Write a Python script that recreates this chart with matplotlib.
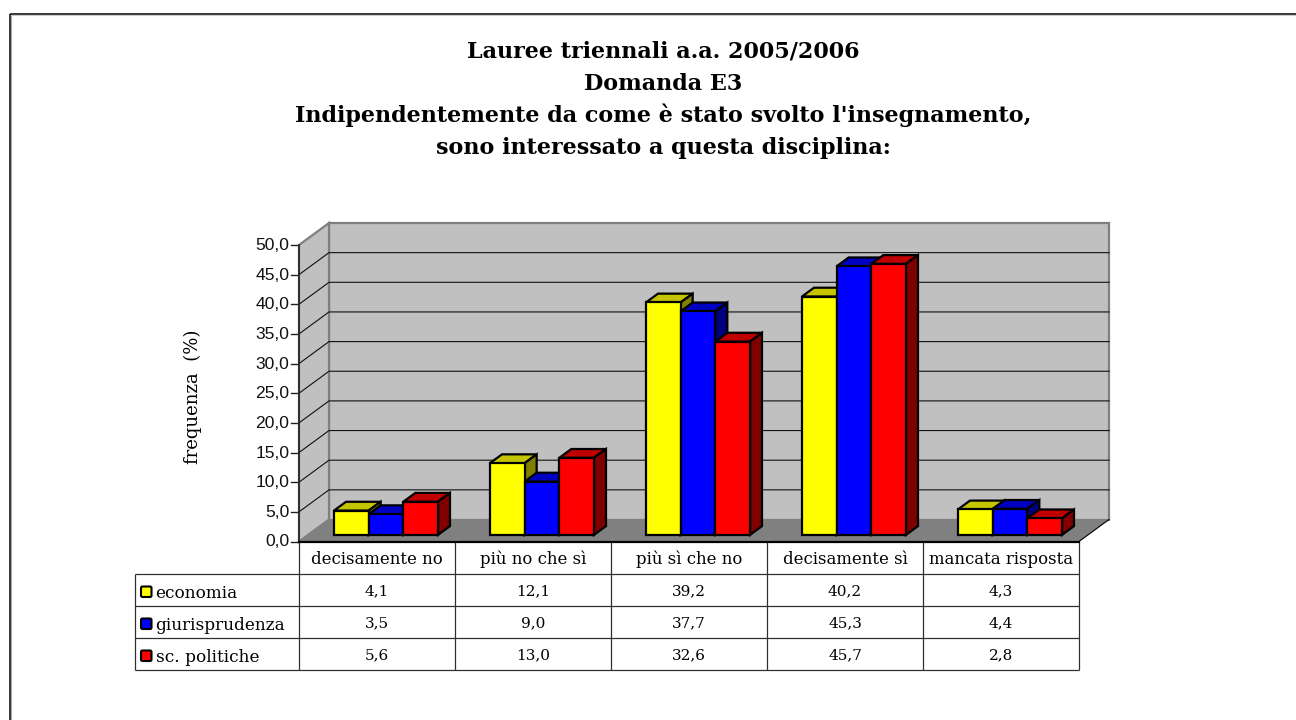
import matplotlib
matplotlib.use("Agg")
import matplotlib.pyplot as plt
from matplotlib.patches import Polygon, FancyBboxPatch

categories = ["decisamente no", "più no che sì", "più sì che no", "decisamente sì", "mancata risposta"]
series_names = ["economia", "giurisprudenza", "sc. politiche"]
economia = [4.1, 12.1, 39.2, 40.2, 4.3]
giurisprudenza = [3.5, 9.0, 37.7, 45.3, 4.4]
politiche = [5.6, 13.0, 32.6, 45.7, 2.8]
values = [economia, giurisprudenza, politiche]
value_labels = [[f"{v:.1f}".replace(".", ",") for v in s] for s in values]
yticks = [0, 5, 10, 15, 20, 25, 30, 35, 40, 45, 50]
ytick_labels = [f"{t:.1f}".replace(".", ",") for t in yticks]
title_lines = ["Lauree triennali a.a. 2005/2006", "Domanda E3",
               "Indipendentemente da come è stato svolto l'insegnamento,",
               "sono interessato a questa disciplina:"]
front = ["#FFFF00", "#0000FF", "#FF0000"]
top = ["#C4C400", "#0000C0", "#C00000"]
side = ["#808000", "#000080", "#800000"]

SERIF = "DejaVu Serif"
W, H = 1296, 720
X0, Y0 = 299.0, 541.5      # front origin, pixels
UX, UY = 156.0, 296.5 / 50 # pixels per category / per unit value
DX, DY = 30.0, 22.0        # depth offset in pixels

fig = plt.figure(figsize=(W / 100, H / 100), dpi=100, facecolor="white")

# page overlay in pixel coordinates
pg = fig.add_axes([0, 0, 1, 1], zorder=0)
pg.set_xlim(0, W); pg.set_ylim(H, 0); pg.axis("off")

# chart axes: data coordinates, oblique projection for depth
right = X0 + 5 * UX + DX
upper = Y0 - 50 * UY - DY
ax = fig.add_axes([X0 / W, 1 - Y0 / H, (right - X0) / W, (Y0 - upper) / H], zorder=1)
ax.set_xlim(0, (right - X0) / UX)
ax.set_ylim(0, (Y0 - upper) / UY)
ax.axis("off")

def P(x, y, d=0.0):
    return (x + d * DX / UX, y + d * DY / UY)

def poly(pts, fc, ec="none", lw=0, z=1):
    ax.add_patch(Polygon(pts, closed=True, facecolor=fc, edgecolor=ec, linewidth=lw,
                         joinstyle="miter", zorder=z, clip_on=False))

# page border (top and left only)
pg.plot([9.5, 9.5], [H, 13.5], color="black", lw=1.1, solid_capstyle="butt")
pg.plot([9.5, W], [13.5, 13.5], color="black", lw=1.1, solid_capstyle="butt")
pg.plot([11, 11], [H, 15], color="#A8A8A8", lw=0.8)
pg.plot([11, W], [15, 15], color="#C8C8C8", lw=0.8)

# title
for i, line in enumerate(title_lines):
    pg.text(663, 58 + 32 * i, line, ha="center", va="baseline", family=SERIF,
            fontweight="bold", fontsize=16, color="black")

# y-axis title
pg.text(193, 397, "frequenza  (%)", rotation=90, ha="center", va="center",
        family=SERIF, fontsize=13, color="black")

# walls and floor
poly([P(0, 0, 1), P(5, 0, 1), P(5, 50, 1), P(0, 50, 1)], "#C0C0C0", "#808080", 1.6, 1)
poly([P(0, 0, 0), P(0, 0, 1), P(0, 50, 1), P(0, 50, 0)], "#C0C0C0", "#808080", 1.6, 1)
poly([P(0, 0, 0), P(5, 0, 0), P(5, 0, 1), P(0, 0, 1)], "#808080", z=2)
ax.plot(*zip(P(5, 0, 0), P(5, 0, 1)), color="black", lw=0.8, zorder=2, clip_on=False)

# gridlines
for t in yticks[1:-1]:
    ax.plot(*zip(P(0, t, 0), P(0, t, 1), P(5, t, 1)), color="#101010", lw=0.8, zorder=2, clip_on=False)

# bars
bar_w = 2 / 9
for c in range(5):
    for s in range(3):
        x0 = c + 1 / 6 + s * bar_w
        x1 = x0 + bar_w
        v = values[s][c]
        d0, d1 = 0.3, 0.7
        z = 3 + c + s * 0.1
        poly([P(x0, v, d0), P(x1, v, d0), P(x1, v, d1), P(x0, v, d1)], top[s], "black", 1.6, z)
        poly([P(x1, 0, d0), P(x1, 0, d1), P(x1, v, d1), P(x1, v, d0)], side[s], "black", 1.6, z)
        poly([P(x0, 0, d0), P(x1, 0, d0), P(x1, v, d0), P(x0, v, d0)], front[s], "black", 1.6, z + 0.01)

# y axis, ticks, labels
ax.plot([0, 0], [0, 50], color="#202020", lw=1.2, zorder=20, clip_on=False)
ax.plot([0, 5], [0, 0], color="black", lw=1.6, zorder=20, clip_on=False)
for t, lab in zip(yticks, ytick_labels):
    pg.plot([291, X0], [Y0 - t * UY] * 2, color="#202020", lw=1.0, zorder=5)
    pg.text(289.5, Y0 - t * UY + 0.5, lab, ha="right", va="center", family="Liberation Sans",
            fontsize=12.6, color="#111111")

# data table
line = dict(color="#303030", lw=0.9, solid_capstyle="butt")
rows_y = [573.5, 605.5, 637.5, 669.5]
pg.plot([135, 135], [rows_y[0], rows_y[3]], **line)
for y in rows_y:
    pg.plot([135, X0 + 5 * UX], [y, y], **line)
for c in range(6):
    pg.plot([X0 + c * UX] * 2, [Y0, rows_y[3]], **line)
for c, cat in enumerate(categories):
    pg.text(X0 + (c + 0.5) * UX, Y0 + 22.5, cat, ha="center", va="baseline", family=SERIF, fontsize=11.9)
for s, name in enumerate(series_names):
    by = rows_y[s] + 25
    pg.add_patch(FancyBboxPatch((141, rows_y[s] + 13), 10.5, 10.5, boxstyle="round,pad=0,rounding_size=1.5",
                                facecolor=front[s], edgecolor="black", linewidth=1.5))
    pg.text(155.5, by, name, ha="left", va="baseline", family=SERIF, fontsize=12.2)
    for c, lab in enumerate(value_labels[s]):
        pg.text(X0 + (c + 0.5) * UX, by - 3, lab, ha="center", va="baseline", family=SERIF, fontsize=11)

fig.savefig("out.png", dpi=100, facecolor="white")
